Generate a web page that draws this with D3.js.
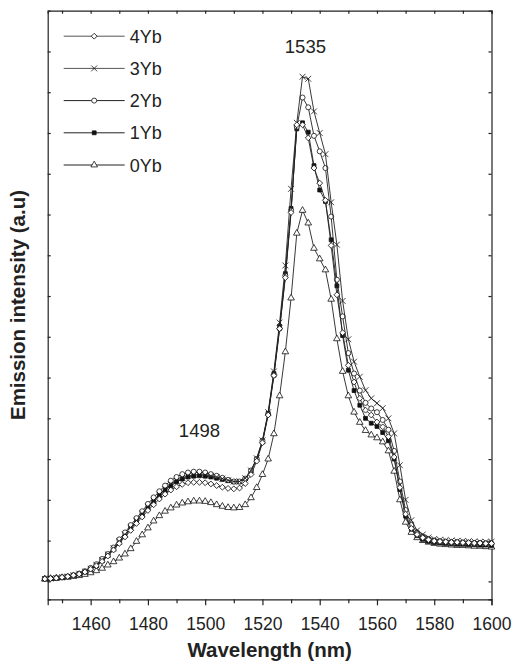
<!DOCTYPE html>
<html>
<head>
<meta charset="utf-8">
<script src="https://cdn.jsdelivr.net/npm/d3@7"></script>
<style>
    body { margin: 0; background: #fff; }
    text { font-family: "Liberation Sans", Arial, Helvetica, sans-serif; fill: #222; }
    .axis path, .axis line { stroke: #222; stroke-width: 1.2; }
    .curve { fill: none; stroke: #222; stroke-width: 0.9; }
</style>
</head>
<body>
<svg id="chart"></svg>
<script>

// wavelength grid (nm), one point every 2 nm
var wavelengths = d3.range(1444, 1601, 2);

var seriesNames = ["4Yb", "3Yb", "2Yb", "1Yb", "0Yb"];

var yb4 = [0.06, 0.07, 0.08, 0.10, 0.12, 0.15, 0.18, 0.23, 0.30, 0.38, 0.49, 0.62, 0.77, 0.93, 1.09, 1.25,
    1.42, 1.58, 1.74, 1.88, 2.02, 2.14, 2.24, 2.32, 2.38, 2.42, 2.43, 2.43, 2.42, 2.39, 2.35, 2.31, 2.28,
    2.27, 2.29, 2.40, 2.62, 2.95, 3.40, 4.08, 5.05, 6.20, 7.45, 9.05, 11.20, 11.20, 10.88, 10.14, 9.77,
    9.35, 8.24, 7.03, 6.10, 5.30, 4.89, 4.49, 4.20, 4.08, 3.91, 3.79, 3.55, 3.05, 2.30, 1.65, 1.30, 1.15,
    1.07, 1.02, 0.99, 0.98, 0.97, 0.96, 0.96, 0.95, 0.95, 0.94, 0.94, 0.93, 0.93];

var yb3 = [0.06, 0.07, 0.08, 0.10, 0.12, 0.15, 0.19, 0.24, 0.31, 0.40, 0.52, 0.66, 0.81, 0.98, 1.15, 1.32,
    1.49, 1.66, 1.83, 1.98, 2.13, 2.26, 2.38, 2.47, 2.54, 2.59, 2.61, 2.62, 2.61, 2.59, 2.56, 2.52, 2.48,
    2.45, 2.45, 2.53, 2.72, 3.02, 3.46, 4.15, 5.15, 6.35, 7.75, 9.63, 11.25, 12.38, 12.33, 11.53, 11.00,
    10.48, 9.30, 8.26, 6.88, 5.94, 5.39, 5.02, 4.69, 4.49, 4.37, 4.25, 4.00, 3.63, 2.85, 2.00, 1.50, 1.25,
    1.15, 1.08, 1.04, 1.02, 1.01, 1.00, 0.99, 0.99, 0.98, 0.98, 0.97, 0.97, 0.97];

var yb2 = [0.06, 0.07, 0.08, 0.10, 0.12, 0.15, 0.19, 0.25, 0.33, 0.42, 0.55, 0.67, 0.83, 1.03, 1.20, 1.38,
    1.55, 1.72, 1.90, 2.06, 2.21, 2.35, 2.47, 2.56, 2.63, 2.67, 2.69, 2.69, 2.67, 2.63, 2.59, 2.54, 2.49,
    2.45, 2.45, 2.52, 2.72, 3.00, 3.45, 4.10, 5.05, 6.20, 7.50, 9.10, 11.15, 11.87, 11.63, 10.93, 10.55,
    10.14, 8.95, 7.40, 6.50, 5.60, 5.10, 4.68, 4.38, 4.24, 4.15, 3.96, 3.72, 3.20, 2.45, 1.75, 1.38, 1.20,
    1.10, 1.04, 1.00, 0.98, 0.97, 0.96, 0.96, 0.95, 0.95, 0.94, 0.94, 0.93, 0.93];

var yb1 = [0.06, 0.07, 0.08, 0.10, 0.12, 0.15, 0.18, 0.23, 0.30, 0.38, 0.50, 0.64, 0.79, 0.95, 1.12, 1.29,
    1.46, 1.63, 1.80, 1.95, 2.10, 2.23, 2.34, 2.44, 2.51, 2.56, 2.58, 2.59, 2.58, 2.56, 2.53, 2.50, 2.47,
    2.44, 2.44, 2.52, 2.70, 3.00, 3.42, 4.12, 5.10, 6.25, 7.55, 9.15, 11.10, 11.25, 11.02, 10.20, 9.60,
    9.32, 8.38, 7.25, 6.03, 5.18, 4.68, 4.32, 4.00, 3.88, 3.80, 3.65, 3.45, 3.00, 2.25, 1.60, 1.28, 1.12,
    1.03, 0.98, 0.95, 0.94, 0.93, 0.92, 0.91, 0.91, 0.90, 0.90, 0.89, 0.89, 0.88];

var yb0 = [0.06, 0.07, 0.08, 0.09, 0.10, 0.12, 0.14, 0.17, 0.21, 0.26, 0.32, 0.40, 0.48, 0.57, 0.67, 0.80,
    0.98, 1.14, 1.31, 1.48, 1.61, 1.72, 1.80, 1.87, 1.92, 1.95, 1.97, 1.97, 1.96, 1.93, 1.88, 1.84, 1.81,
    1.80, 1.81, 1.88, 2.05, 2.30, 2.62, 3.00, 3.62, 4.55, 5.63, 6.95, 8.54, 9.10, 8.79, 8.17, 7.91,
    7.64, 6.92, 5.95, 5.15, 4.55, 4.15, 3.90, 3.70, 3.59, 3.52, 3.42, 3.20, 2.70, 2.00, 1.45, 1.20, 1.07,
    1.00, 0.96, 0.93, 0.91, 0.90, 0.89, 0.88, 0.88, 0.87, 0.86, 0.86, 0.85, 0.84];

var seriesValues = [yb4, yb3, yb2, yb1, yb0];

var xTickLabels = [1460, 1480, 1500, 1520, 1540, 1560, 1580, 1600];
var xMinorTicks = [1450, 1470, 1490, 1510, 1530, 1550, 1570, 1590];
var yTicks = d3.range(0, 14, 1);

var peakLabels = [
    { text: "1535", wl: 1535, value: 12.95 },
    { text: "1498", wl: 1498, value: 3.55 }
];

var svgWidth = 513;
var svgHeight = 661;
var margin = { top: 10.7, right: 21.5, bottom: 61.7, left: 47.7 };
var width = svgWidth - margin.left - margin.right;
var height = svgHeight - margin.top - margin.bottom;

var x = d3.scaleLinear().domain([1445, 1600]).range([0, width]);
var y = d3.scaleLinear().domain([-0.44, 14]).range([height, 0]);

var svg = d3.select("#chart")
    .attr("width", svgWidth)
    .attr("height", svgHeight);

var g = svg.append("g").attr("transform", "translate(" + margin.left + "," + margin.top + ")");

// marker shapes, one per series
var symbols = [
    d3.symbol().type(d3.symbolSquare).size(17),   // rotated -> diamond
    d3.symbol().type(d3.symbolX).size(24),
    d3.symbol().type(d3.symbolCircle).size(20),
    d3.symbol().type(d3.symbolSquare).size(15),
    d3.symbol().type(d3.symbolTriangle).size(19)
];
var rotations = [45, 0, 0, 0, 0];
var fills = ["#fff", "none", "#fff", "#111", "#fff"];

function drawMarker(sel, i, cx, cy) {
    sel.append("path")
        .attr("d", symbols[i]())
        .attr("transform", "translate(" + cx + "," + cy + ") rotate(" + rotations[i] + ")")
        .attr("fill", fills[i])
        .attr("stroke", "#111")
        .attr("stroke-width", 0.8);
}

// top axis: inner ticks only
g.append("g")
    .attr("class", "axis")
    .call(d3.axisTop(x).tickValues(d3.range(1450, 1601, 10)).tickSize(-3).tickFormat(""));

// bottom axis: long ticks with labels, short ones between
g.append("g")
    .attr("class", "axis axis--x")
    .attr("transform", "translate(0," + height + ")")
    .call(d3.axisBottom(x).tickValues(xTickLabels).tickSize(6).tickPadding(12).tickFormat(d3.format("d")))
    .call(function (a) { a.selectAll("text").style("font-size", "17.5px").attr("fill", "#222"); });

g.append("g")
    .attr("class", "axis")
    .attr("transform", "translate(0," + height + ")")
    .call(d3.axisBottom(x).tickValues(xMinorTicks).tickSize(4).tickFormat(""))
    .select(".domain").remove();

// left / right axes: inner ticks, no labels
g.append("g")
    .attr("class", "axis")
    .call(d3.axisLeft(y).tickValues(yTicks).tickSize(-3).tickFormat(""));

g.append("g")
    .attr("class", "axis")
    .attr("transform", "translate(" + width + ",0)")
    .call(d3.axisRight(y).tickValues(yTicks).tickSize(-3).tickFormat(""));

g.selectAll(".axis .domain").attr("fill", "none");

var line = d3.line()
    .x(function (d, i) { return x(wavelengths[i]); })
    .y(function (d) { return y(d); });

// draw 0Yb first so the higher curves sit on top
for (var j = seriesValues.length - 1; j >= 0; j--) {
    var sg = g.append("g").attr("class", "series series-" + seriesNames[j]);
    sg.append("path")
        .datum(seriesValues[j])
        .attr("class", "curve")
        .attr("d", line);
    for (var i = 0; i < wavelengths.length; i++) {
        drawMarker(sg, j, x(wavelengths[i]), y(seriesValues[j][i]));
    }
}

// legend
var legend = g.append("g").attr("transform", "translate(16,25.5)");
for (var k = 0; k < seriesNames.length; k++) {
    var row = legend.append("g").attr("transform", "translate(0," + (k * 32.2) + ")");
    row.append("line")
        .attr("x1", 0).attr("x2", 61)
        .attr("y1", 0).attr("y2", 0)
        .attr("stroke", k < 2 ? "#555" : "#222")
        .attr("stroke-width", 1);
    drawMarker(row, k, 30.5, 0);
    row.append("text")
        .attr("x", 66)
        .attr("y", 6.5)
        .style("font-size", "18px")
        .text(seriesNames[k]);
}

// peak annotations
g.selectAll(".peak")
    .data(peakLabels)
    .enter()
    .append("text")
        .attr("class", "peak")
        .attr("x", function (d) { return x(d.wl); })
        .attr("y", function (d) { return y(d.value); })
        .attr("text-anchor", "middle")
        .style("font-size", "18.5px")
        .text(function (d) { return d.text; });

// axis titles
svg.append("text")
    .attr("x", margin.left + width / 2)
    .attr("y", 657)
    .attr("text-anchor", "middle")
    .style("font-size", "20.5px")
    .style("font-weight", "bold")
    .text("Wavelength (nm)");

svg.append("text")
    .attr("transform", "translate(25," + (margin.top + height / 2) + ") rotate(-90)")
    .attr("text-anchor", "middle")
    .style("font-size", "20.5px")
    .style("font-weight", "bold")
    .text("Emission intensity (a.u)");

</script>
</body>
</html>
